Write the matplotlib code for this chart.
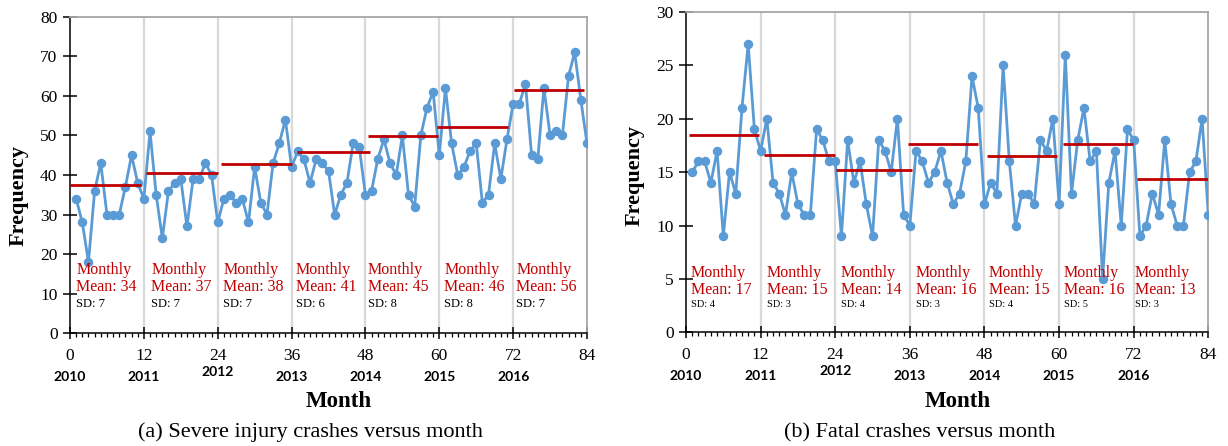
import matplotlib
matplotlib.use("Agg")
import matplotlib.pyplot as plt
import numpy as np

# ---------------- data ----------------
months = list(range(1, 85))
severe = [34, 28, 18, 36, 43, 30, 30, 30, 37, 45, 38, 34,
          51, 35, 24, 36, 38, 39, 27, 39, 39, 43, 40, 28,
          34, 35, 33, 34, 28, 42, 33, 30, 43, 48, 54, 42,
          46, 44, 38, 44, 43, 41, 30, 35, 38, 48, 47, 35,
          36, 44, 49, 43, 40, 50, 35, 32, 50, 57, 61, 45,
          62, 48, 40, 42, 46, 48, 33, 35, 48, 39, 49, 58,
          58, 63, 45, 44, 62, 50, 51, 50, 65, 71, 59, 48]
fatal = [15, 16, 16, 14, 17, 9, 15, 13, 21, 27, 19, 17,
         20, 14, 13, 11, 15, 12, 11, 11, 19, 18, 16, 16,
         9, 18, 14, 16, 12, 9, 18, 17, 15, 20, 11, 10,
         17, 16, 14, 15, 17, 14, 12, 13, 16, 24, 21, 12,
         14, 13, 25, 16, 10, 13, 13, 12, 18, 17, 20, 12,
         26, 13, 18, 21, 16, 17, 5, 14, 17, 10, 19, 18,
         9, 10, 13, 11, 18, 12, 10, 10, 15, 16, 20, 11]

severe_line_level = [37.4, 40.4, 42.8, 45.8, 49.8, 52.1, 61.6]
severe_line_start = [0.0, 12.4, 24.6, 36.9, 48.4, 59.7, 72.1]
severe_line_end = [11.6, 24.0, 36.0, 48.7, 59.8, 71.1, 83.5]
fatal_line_level = [18.5, 16.6, 15.2, 17.6, 16.5, 17.6, 14.4]
fatal_line_start = [0.5, 12.6, 24.2, 35.7, 48.4, 60.6, 72.6]
fatal_line_end = [11.8, 23.9, 36.3, 46.9, 59.7, 71.9, 83.9]

severe_means = [34, 37, 38, 41, 45, 46, 56]
severe_sd = [7, 7, 7, 6, 8, 8, 7]
fatal_means = [17, 15, 14, 16, 15, 16, 13]
fatal_sd = [4, 3, 4, 3, 4, 5, 3]

xticks = [0, 12, 24, 36, 48, 60, 72, 84]
years = ["2010", "2011", "2012", "2013", "2014", "2015", "2016"]

BLUE = "#5B9BD5"
RED = "#C00000"
SERIF = "Liberation Serif"
plt.rcParams["font.family"] = [SERIF, "DejaVu Serif"]

fig = plt.figure(figsize=(12.28, 4.46), dpi=100)
ax1 = fig.add_axes([70/1228, 1-333.3/446, (587-70)/1228, (333.3-16.7)/446])
ax2 = fig.add_axes([686/1228, 1-332.3/446, (1208.3-686)/1228, (332.3-12)/446])


def style(ax, ymax, ystep, values, lvl, s0, s1, means, sds, txt_x, mean_y, sd_y, sd_size,
          caption, cap_x, ylab_y):
    ax.set_xlim(0, 84)
    ax.set_ylim(0, ymax)
    for x in xticks[1:-1]:
        ax.axvline(x, color="#d9d9d9", lw=1.6, zorder=0)
    ax.plot(months, values, color=BLUE, lw=2.0, marker="o", ms=5.8, zorder=3)
    for lv, a, b in zip(lvl, s0, s1):
        ax.hlines(lv, a, b, color=RED, lw=2.0, zorder=4)
    for i, (m, sd) in enumerate(zip(means, sds)):
        x = 12 * i + txt_x[i]
        ax.text(x, mean_y, f"Monthly\nMean: {m}", color=RED, fontsize=11.5,
                va="baseline", ha="left", linespacing=1.05, zorder=5)
        ax.text(x, sd_y, f"SD: {sd}", color="black", fontsize=sd_size,
                va="baseline", ha="left", zorder=5)
    for side in ["top", "right"]:
        ax.spines[side].set_color("#a6a6a6")
        ax.spines[side].set_linewidth(1.3)
    for side in ["left", "bottom"]:
        ax.spines[side].set_color("black")
        ax.spines[side].set_linewidth(1.1)
    ax.set_xticks(xticks)
    ax.set_xticks(range(0, 85), minor=True)
    ax.set_yticks(np.arange(0, ymax + 0.1, ystep))
    ax.tick_params(axis="x", which="major", direction="inout", length=9, width=1.1,
                   pad=6, labelsize=12.5)
    ax.tick_params(axis="x", which="minor", direction="out", length=3, width=0.9)
    ax.tick_params(axis="y", which="major", direction="inout", length=10, width=1.1,
                   pad=4, labelsize=12.5)
    tr = ax.get_xaxis_transform()
    for i, y in enumerate(years):
        dy = -0.122 if y == "2012" else -0.137
        ax.text(12 * i, dy, y, transform=tr, ha="center", va="center",
                fontsize=10, fontweight="bold", family="Lato")
    ax.text(0.52, -0.215, "Month", transform=ax.transAxes, ha="center", va="center",
            fontsize=16.5, fontweight="bold")
    ax.set_ylabel("Frequency", fontsize=16, fontweight="bold")
    ax.yaxis.set_label_coords(-0.08, ylab_y)
    fig.text(cap_x, 1 - 432.5/446, caption, ha="center", va="center", fontsize=16)


style(ax1, 80, 10, severe, severe_line_level, severe_line_start, severe_line_end,
      severe_means, severe_sd, [1.0, 1.2, 0.9, 0.7, 0.4, 0.8, 0.5], 10.7, 6.7, 9,
      "(a) Severe injury crashes versus month", 310/1228, 0.435)
style(ax2, 30, 5, fatal, fatal_line_level, fatal_line_start, fatal_line_end,
      fatal_means, fatal_sd, [0.8, 1.0, 0.9, 1.0, 0.7, 0.8, 0.2], 3.6, 2.4, 7.5,
      "(b) Fatal crashes versus month", 920/1228, 0.49)

fig.savefig("out.png", dpi=100)
